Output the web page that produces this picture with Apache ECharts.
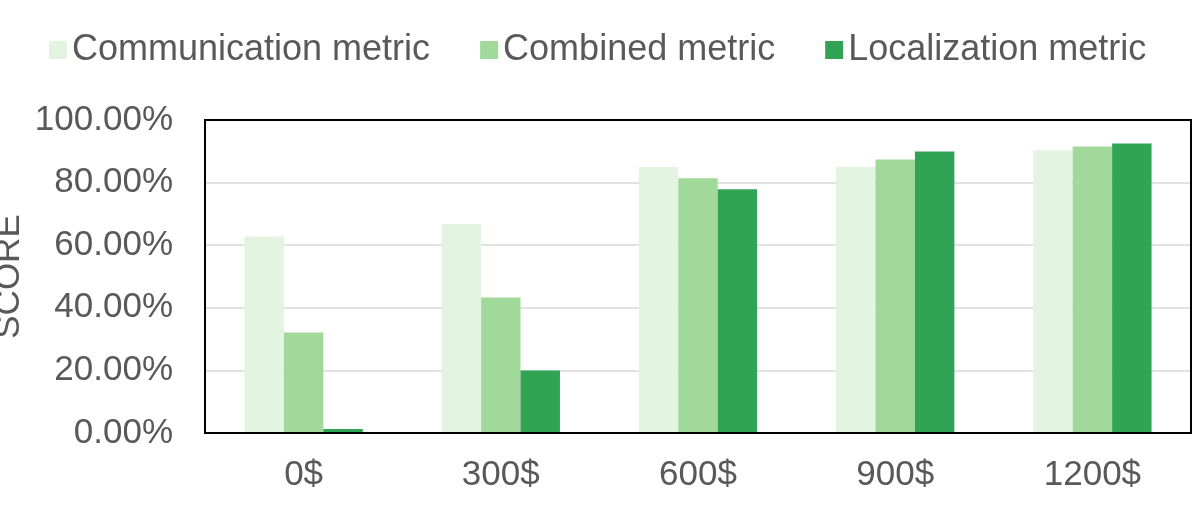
<!DOCTYPE html>
<html><head><meta charset="utf-8">
<script src="https://cdn.jsdelivr.net/npm/echarts@6/dist/echarts.min.js"></script>
<style>html,body{margin:0;padding:0;background:#fff}#c{width:1196px;height:507px}</style>
</head><body><div id="c"></div>
<script>
const categories = ['0$', '300$', '600$', '900$', '1200$'];
const communication = [62.8, 66.8, 85.0, 85.1, 90.3];
const combined = [32.1, 43.3, 81.4, 87.4, 91.5];
const localization = [1.3, 20.0, 77.9, 89.9, 92.5];
const seriesNames = ['Communication metric', 'Combined metric', 'Localization metric'];
const colors = ['#E3F4E0', '#A1D99B', '#31A354'];
const FONT = '"Liberation Sans", Arial, sans-serif';
const chart = echarts.init(document.getElementById('c'), null, {renderer: 'canvas'});
const mk = (name, data, color) => ({
  name, type: 'bar', data, barGap: '0%', barCategoryGap: '40%',
  itemStyle: {color}, emphasis: {disabled: true}
});
chart.setOption({
  animation: false,
  color: colors,
  textStyle: {fontFamily: FONT},
  legend: {
    left: 44, top: 27, itemWidth: 18, itemHeight: 18, itemGap: 50,
    icon: 'rect',
    textStyle: {fontSize: 36, color: '#595959', fontFamily: FONT},
    data: seriesNames
  },
  grid: {left: 205, right: 5, top: 120, bottom: 74, show: true, borderColor: '#000', borderWidth: 2,
    backgroundColor: 'transparent', containLabel: false, outerBoundsMode: 'none', z: 10},
  xAxis: {
    type: 'category', data: categories,
    axisLine: {show: true, lineStyle: {color: '#000', width: 2}}, axisTick: {show: false},
    axisLabel: {fontSize: 35, color: '#595959', margin: 25, fontFamily: FONT}
  },
  yAxis: {
    type: 'value', min: 0, max: 100, interval: 20,
    name: 'SCORE', nameLocation: 'middle', nameGap: 178, nameMoveOverlap: false,
    nameTextStyle: {fontSize: 35, color: '#595959', fontFamily: FONT},
    axisLine: {show: true, lineStyle: {color: '#000', width: 2}}, axisTick: {show: false},
    splitLine: {lineStyle: {color: '#D9D9D9', width: 1.5}},
    axisLabel: {fontSize: 35, color: '#595959', margin: 32, fontFamily: FONT,
      formatter: v => v.toFixed(2) + '%'}
  },
  series: [
    mk(seriesNames[0], communication, colors[0]),
    mk(seriesNames[1], combined, colors[1]),
    mk(seriesNames[2], localization, colors[2])
  ]
});
</script></body></html>
